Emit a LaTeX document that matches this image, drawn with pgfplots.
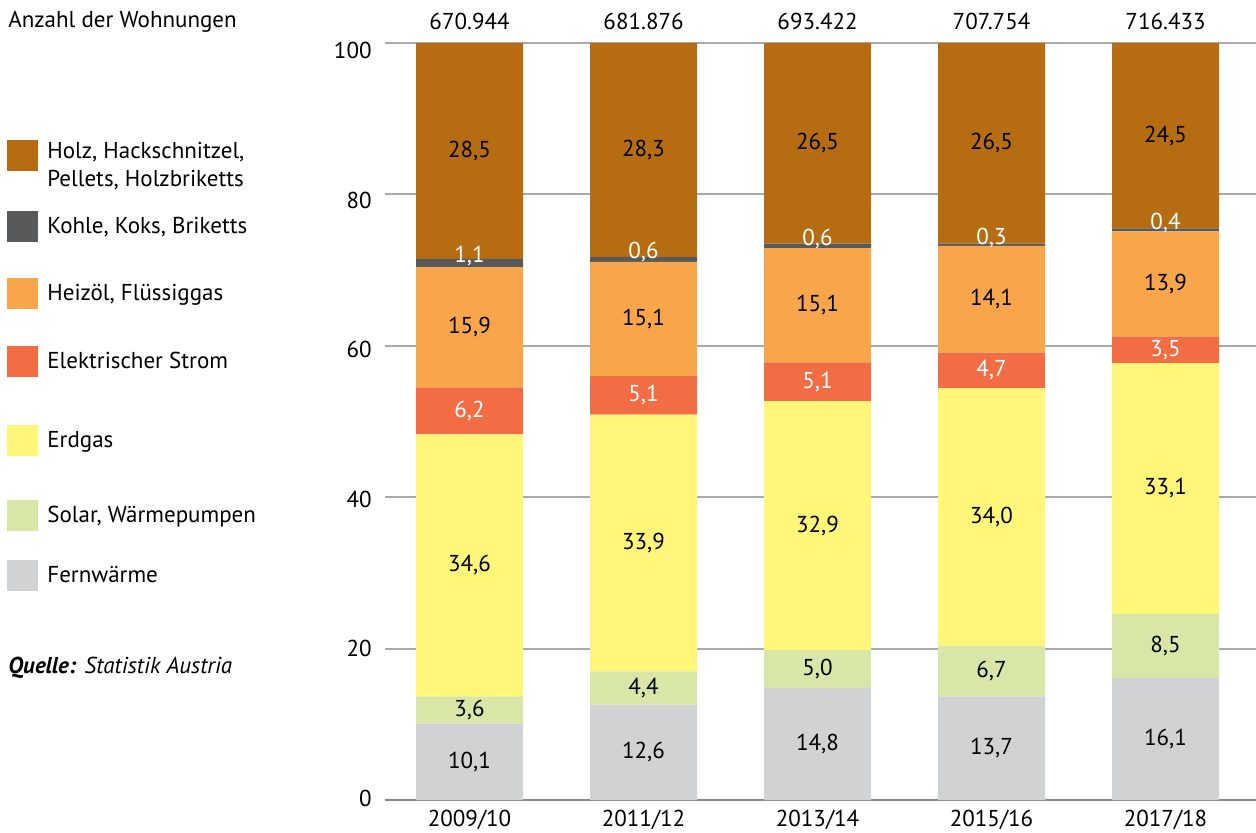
\documentclass[border=0pt]{standalone}
\usepackage{fontspec}
\setmainfont{PT Sans}
\usepackage{pgfplots}
\usepackage{pgfplotstable}
\pgfplotsset{compat=1.18}
\definecolor{cHolz}{HTML}{B66D12}
\definecolor{cKohle}{HTML}{58595B}
\definecolor{cHeiz}{HTML}{F9A54A}
\definecolor{cStrom}{HTML}{F26D44}
\definecolor{cErdgas}{HTML}{FFF67A}
\definecolor{cSolar}{HTML}{D8E7A8}
\definecolor{cFern}{HTML}{D1D2D4}
\definecolor{cGrid}{HTML}{A7A9AC}
\pgfplotstableread{
x fern solar erdgas strom heiz kohle holz
0 10.1 3.6 34.6 6.2 15.9 1.1 28.5
1 12.6 4.4 33.9 5.1 15.1 0.6 28.3
2 14.8 5.0 32.9 5.1 15.1 0.6 26.5
3 13.7 6.7 34.0 4.7 14.1 0.3 26.5
4 16.1 8.5 33.1 3.5 13.9 0.4 24.5
}\datatable
\newcommand\fs{\fontsize{11.5}{14}\selectfont}
\pgfplotsset{
  seg/.style 2 args={fill=#1, draw=none, point meta=\thisrow{#2},
    nodes near coords={\pgfmathprintnumber[fixed,fixed zerofill,precision=1,use comma,assume math mode=true]{\pgfplotspointmeta}}},
  midlab/.style={every node near coord/.append style={anchor=center, text=#1, font=\fs, inner sep=0pt}},
  holzimg/.style={legend image code/.code={\fill[##1] (0pt,7.5pt) rectangle (15.5pt,23pt);}},
}
\begin{document}
\begin{tikzpicture}
\useasboundingbox (-192.5pt,-16pt) rectangle (435.5pt,400pt);
\begin{axis}[
  at={(0,0)}, anchor=south west,
  scale only axis, width=435.5pt, height=378.5pt,
  ybar stacked, bar width=0.615,
  xmin=-0.486, xmax=4.52, ymin=0, ymax=100,
  clip=false,
  axis line style={draw=none},
  major tick length=0pt,
  xtick={0,1,2,3,4},
  xticklabels={2009/10,2011/12,2013/14,2015/16,2017/18},
  ytick={20,40,60,80,100},
  extra y ticks={0},
  extra y tick style={grid style={color=cGrid!80!black, line width=1.3pt}, yticklabel style={yshift=0.75pt}},
  ymajorgrids,
  grid style={color=cGrid, line width=1pt},
  /pgf/number format/assume math mode=true,
  tick label style={font=\fs, inner sep=0pt},
  yticklabel style={anchor=east, xshift=-6.5pt, yshift={-0.95*\ticknum*1pt}},
  xticklabel style={anchor=north, yshift=-5pt},
  reverse legend,
  legend image code/.code={\fill[#1] (0pt,-4.25pt) rectangle (15.5pt,11.25pt);},
  legend style={at={(-0.43398,0.87186)}, anchor=north west, draw=none, fill=none,
    inner sep=0pt, row sep=0pt, column sep=4.5pt, font=\fs,
    nodes={inner sep=0pt, text depth=, align=left}, cells={anchor=base west}},
]
\addplot[seg={cFern}{fern}, midlab=black] table[x=x,y=fern]{\datatable};
\addlegendentry{\rule[-4pt]{0pt}{16pt}Fernwärme}
\addplot[seg={cSolar}{solar}, midlab=black] table[x=x,y=solar]{\datatable};
\addlegendentry{\rule[-18pt]{0pt}{30pt}Solar, Wärmepumpen}
\addplot[seg={cErdgas}{erdgas}, midlab=black] table[x=x,y=erdgas]{\datatable};
\addlegendentry{\rule[-25.5pt]{0pt}{37.5pt}Erdgas}
\addplot[seg={cStrom}{strom}, midlab=white] table[x=x,y=strom]{\datatable};
\addlegendentry{\rule[-27.5pt]{0pt}{39.5pt}Elektrischer Strom}
\addplot[seg={cHeiz}{heiz}, midlab=black] table[x=x,y=heiz]{\datatable};
\addlegendentry{\rule[-22pt]{0pt}{34pt}Heizöl, Flüssiggas}
\addplot[seg={cKohle}{kohle}, every node near coord/.append style={anchor=center, text=white, font=\fs, inner sep=0pt, yshift=3.5pt}] table[x=x,y=kohle]{\datatable};
\addlegendentry{\rule[-21.5pt]{0pt}{33.5pt}Kohle, Koks, Briketts}
\addplot[seg={cHolz}{holz}, midlab=black, holzimg] table[x=x,y=holz]{\datatable};
\addlegendentry{Holz, Hackschnitzel,\\[0pt]\rule[-11.5pt]{0pt}{23.5pt}Pellets, Holzbriketts}
\node[anchor=base, font=\fs, yshift=7pt] at (axis cs:0,100) {670.944};
\node[anchor=base, font=\fs, yshift=7pt] at (axis cs:1,100) {681.876};
\node[anchor=base, font=\fs, yshift=7pt] at (axis cs:2,100) {693.422};
\node[anchor=base, font=\fs, yshift=7pt] at (axis cs:3,100) {707.754};
\node[anchor=base, font=\fs, yshift=7pt] at (axis cs:4,100) {716.433};
\node[anchor=base west, font=\fs, inner sep=0pt] at (axis description cs:-0.4328,1.01982) {Anzahl der Wohnungen};
\node[anchor=base west, font=\fs, inner sep=0pt] at (axis description cs:-0.4328,0.16777) {\textbf{\textit{Quelle:}} \textit{Statistik Austria}};
\end{axis}
\end{tikzpicture}
\end{document}
